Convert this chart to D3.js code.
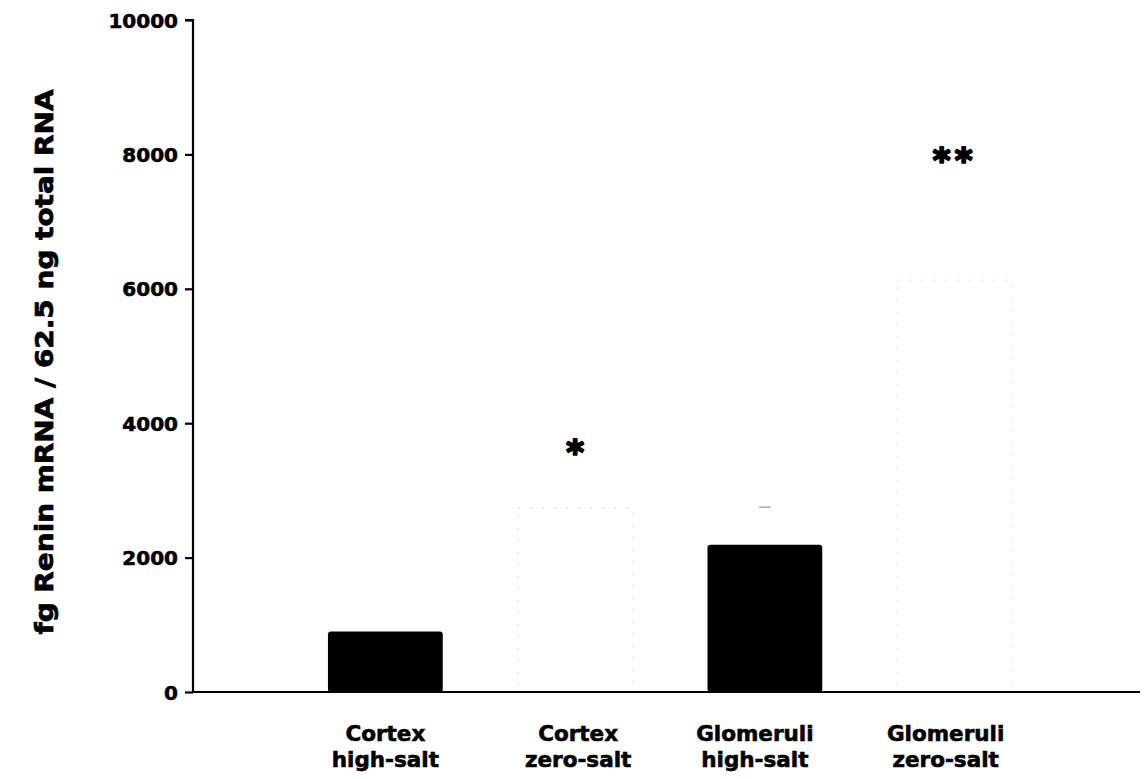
<!DOCTYPE html>
<html><head><meta charset="utf-8">
<script src="https://cdn.jsdelivr.net/npm/d3@7"></script>
<style>body{margin:0;background:#fff}text{font-family:"DejaVu Sans",Arial,sans-serif;font-weight:bold}</style>
</head><body><svg id="c" width="1145" height="779"></svg>
<script>
const categories = [["Cortex","high-salt"],["Cortex","zero-salt"],["Glomeruli","high-salt"],["Glomeruli","zero-salt"]];
const values = [900, 2740, 2190, 6130];
const fills = ["black","white","black","white"];
const errorTops = [null, null, 2750, null];
const marks = ["", "*", "", "**"];
const markValues = [null, 3680, null, 8020];
const yTicks = [0,2000,4000,6000,8000,10000];

const svg = d3.select("#c");
const x0 = 193, x1 = 1140, yTop = 20, yBot = 692;
const y = d3.scaleLinear().domain([0,10000]).range([yBot,yTop]);
const x = d3.scaleBand().domain(d3.range(4)).range([290, 1050]).paddingInner(0.395).paddingOuter(0.2);
const labelShift = [0, 3, -10, -9];

// bars
svg.selectAll("rect.bar").data(values).join("rect")
  .attr("x",(d,i)=>x(i)).attr("width",x.bandwidth())
  .attr("y",d=>y(d)).attr("height",d=>yBot-y(d))
  .attr("fill",(d,i)=>fills[i])
  .attr("rx",(d,i)=>fills[i]==="black"?3:0)
  .attr("stroke",(d,i)=>fills[i]==="white"?"#e2e2e2":"none")
  .attr("stroke-width",1.2)
  .attr("stroke-dasharray","2,10");

// faint error caps
errorTops.forEach((e,i)=>{ if(e==null) return;
  const cx = x(i)+x.bandwidth()/2;
  svg.append("line").attr("x1",cx-6).attr("x2",cx+6).attr("y1",y(e)).attr("y2",y(e)).attr("stroke","#aaa").attr("stroke-width",1.5);
});

// significance marks
marks.forEach((m,i)=>{ if(!m) return;
  svg.append("text").attr("x",x(i)+x.bandwidth()/2).attr("y",y(markValues[i])+19)
    .attr("text-anchor","middle").attr("font-size",34).attr("font-family","Liberation Sans, Arial, sans-serif")
    .attr("letter-spacing",m.length>1?4:0)
    .attr("stroke","black").attr("stroke-width",2).attr("stroke-linejoin","round").text(m);
});

// y axis
const yAxis = d3.axisLeft(y).tickValues(yTicks).tickSize(8).tickPadding(7).tickFormat(d3.format("d"));
const gy = svg.append("g").attr("transform",`translate(${x0},0)`).call(yAxis);
gy.select(".domain").attr("stroke-width",2.2).attr("d",`M-8,${yTop}H0V${yBot}`);
gy.selectAll(".tick line").attr("stroke-width",2.2);
gy.selectAll(".tick text").attr("font-size",20).attr("font-family","DejaVu Sans, Arial, sans-serif").attr("font-weight","bold").attr("stroke","black").attr("stroke-width",0.6).attr("dy","0.35em");

// x axis baseline
svg.append("line").attr("x1",x0).attr("x2",x1).attr("y1",yBot).attr("y2",yBot).attr("stroke","black").attr("stroke-width",2.2);

// category labels
categories.forEach((c,i)=>{
  const cx = x(i)+x.bandwidth()/2 + labelShift[i];
  const t = svg.append("text").attr("x",cx).attr("y",741).attr("text-anchor","middle")
    .attr("font-size",21.5).attr("stroke","black").attr("stroke-width",0.6);
  t.append("tspan").attr("x",cx).text(c[0]);
  t.append("tspan").attr("x",cx).attr("dy",26).text(c[1]);
});

// y label
svg.append("text").attr("transform","translate(53,362) rotate(-90)").attr("text-anchor","middle")
  .attr("font-size",25).attr("stroke","black").attr("stroke-width",0.7)
  .attr("textLength",545).attr("lengthAdjust","spacingAndGlyphs")
  .text("fg Renin mRNA / 62.5 ng total RNA");
</script></body></html>
